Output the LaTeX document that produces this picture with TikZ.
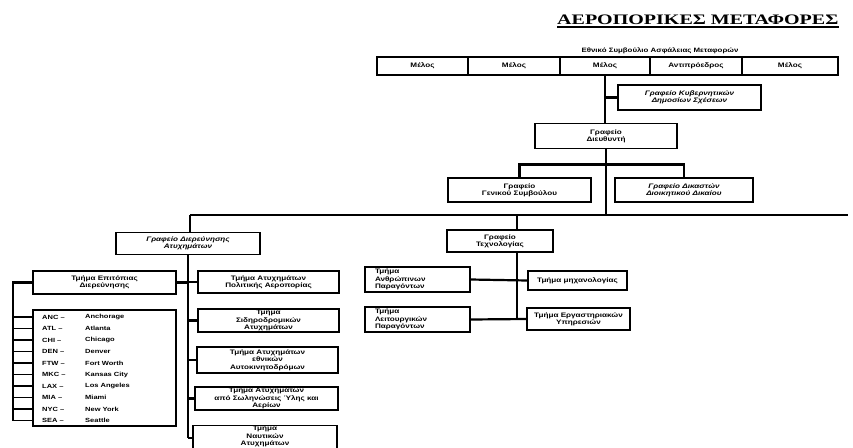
\documentclass[tikz,border=0pt]{standalone}
\usepackage{fontspec}
\setmainfont{Liberation Sans}
\newfontfamily\bxfont[FakeStretch=1.25]{Liberation Sans}
\newfontfamily\ttlfont[FakeStretch=1.38]{Liberation Serif}
\begin{document}
\begin{tikzpicture}[x=1pt,y=-1pt,
  box/.style={draw,line width=1.1pt,inner sep=0pt,align=center,
    font=\bxfont\bfseries\fontsize{6.5}{7.4}\selectfont},
  itbox/.style={box,font=\bxfont\bfseries\itshape\fontsize{6.5}{7.4}\selectfont},
  conn/.style={line width=2.2pt},
  thin/.style={line width=1.4pt},
  lbl/.style={inner sep=0pt,font=\bxfont\bfseries\fontsize{6}{7}\selectfont,anchor=west}
]
\useasboundingbox (0,0) rectangle (853,447);
\clip (0,0) rectangle (853,447);
% title
\node[inner sep=0pt,anchor=base west,font=\ttlfont\bfseries\fontsize{14.5}{16}\selectfont] (title) at (557,24) {ΑΕΡΟΠΟΡΙΚΕΣ ΜΕΤΑΦΟΡΕΣ};
\draw[line width=1.1pt] (title.base west)++(0,3) -- ([yshift=-3pt]title.base east);
\node[inner sep=0pt,font=\bxfont\bfseries\fontsize{6.3}{7}\selectfont] (board) at (660,51) {Εθνικό Συμβούλιο Ασφάλειας Μεταφορών};
% board row
\node[box,minimum width=91pt,minimum height=18pt] (c1) at (422.5,66) {Μέλος};
\node[box,minimum width=92pt,minimum height=18pt] (c2) at (514,66) {Μέλος};
\node[box,minimum width=90pt,minimum height=18pt] (c3) at (605,66) {Μέλος};
\node[box,minimum width=92pt,minimum height=18pt] (c4) at (696,66) {Αντιπρόεδρος};
\node[box,minimum width=96pt,minimum height=18pt] (c5) at (790,66) {Μέλος};
% top offices
\node[itbox,minimum width=143pt,minimum height=25pt] (kyv) at (689.5,97.5) {Γραφείο Κυβερνητικών\\Δημοσίων Σχέσεων};
\node[box,minimum width=142pt,minimum height=25pt] (dir) at (606,136) {Γραφείο\\Διευθυντή};
\node[box,minimum width=143pt,minimum height=24pt] (gen) at (519.5,190) {Γραφείο\\Γενικού Συμβούλου};
\node[itbox,minimum width=138pt,minimum height=24pt] (dik) at (684,190) {Γραφείο Δικαστών\\Διοικητικού Δικαίου};
% main branches
\node[itbox,minimum width=144pt,minimum height=22pt] (acc) at (188,243.5) {Γραφείο Διερεύνησης\\Ατυχημάτων};
\node[box,minimum width=106pt,minimum height=22pt] (tech) at (500,241) {Γραφείο\\Τεχνολογίας};
% technology departments
\node[box,minimum width=105pt,minimum height=25pt,text width=85pt,align=left] (hum) at (417.5,279.5) {Τμήμα\\Ανθρώπινων\\Παραγόντων};
\node[box,minimum width=99pt,minimum height=19pt] (mech) at (577.5,280.5) {Τμήμα μηχανολογίας};
\node[box,minimum width=105pt,minimum height=25pt,text width=85pt,align=left] (op) at (417.5,319.5) {Τμήμα\\Λειτουργικών\\Παραγόντων};
\node[box,minimum width=103pt,minimum height=22pt] (lab) at (578.5,319) {Τμήμα Εργαστηριακών\\Υπηρεσιών};
% accident departments
\node[box,minimum width=143pt,minimum height=23pt] (field) at (104.5,282.5) {Τμήμα Επιτόπιας\\Διερεύνησης};
\node[box,minimum width=143pt,minimum height=116pt] (cities) at (104.5,368) {};
\node[box,minimum width=141pt,minimum height=22pt] (avi) at (268.5,282) {Τμήμα Ατυχημάτων\\Πολιτικής Αεροπορίας};
\node[box,minimum width=141pt,minimum height=23pt] (rail) at (268.5,320.5) {Τμήμα\\Σιδηροδρομικών\\Ατυχημάτων};
\node[box,minimum width=141pt,minimum height=26pt] (hwy) at (267.5,360) {Τμήμα Ατυχημάτων\\εθνικών\\Αυτοκινητοδρόμων};
\node[box,minimum width=143pt,minimum height=23pt] (pipe) at (266.5,398.5) {Τμήμα Ατυχημάτων\\από Σωληνώσεις Ύλης και\\Αερίων};
\node[box,minimum width=144pt,minimum height=34pt,anchor=north] (mar) at (265,425) {Τμήμα\\Ναυτικών\\Ατυχημάτων\\[6pt]};
% city list
\foreach \i/\code/\name in {0/ANC –/Anchorage,1/ATL –/Atlanta,2/CHI –/Chicago,3/DEN –/Denver,4/FTW –/Fort Worth,5/MKC –/Kansas City,6/LAX –/Los Angeles,7/MIA –/Miami,8/NYC –/New York,9/SEA –/Seattle}{
  \node[lbl] (code\i) at (42,317+11.5*\i) {\code};
  \node[lbl] (name\i) at (85,317+11.5*\i) {\name};
  \coordinate (tick\i) at (13,317+11.5*\i);
  \draw[thin] (tick\i) -- (tick\i -| cities.west);
}
% connectors
\draw[conn] (c3.south) -- (c3.south |- dir.north);
\draw[conn] (c3.south |- kyv.west) -- (kyv.west);
\coordinate (mainL) at (190,215);
\coordinate (mainR) at (848,215);
\draw[conn] (dir.south) -- (dir.south |- mainL);
\draw[conn] (gen.north) -- ++(0,-13) -| (dik.north);
\draw[conn] (mainL) -- (mainR);
\draw[conn] (mainL) -- (mainL |- acc.north);
\coordinate (tdrop) at (517,215);
\draw[conn] (tdrop) -- (tdrop |- tech.north);
\coordinate (tbot) at (517,319);
\draw[conn] (tdrop |- tech.south) -- (tbot);
\draw[conn] (hum.east) -- (mech.west);
\draw[conn] (op.east) -- (lab.west);
\coordinate (sbot) at (188,438);
\draw[conn] (sbot |- acc.south) -- (sbot);
\draw[conn] (field.east) -- (sbot |- field.east);
\draw[conn] (sbot |- avi.west) -- (avi.west);
\draw[conn] (sbot |- rail.west) -- (rail.west);
\draw[conn] (sbot |- hwy.west) -- (hwy.west);
\draw[conn] (sbot |- pipe.west) -- (pipe.west);
\draw[conn] (sbot) -- (sbot -| mar.west);
\coordinate (ltop) at (13,282.5);
\draw[conn] (field.west) -- (ltop) -- (tick9);
\end{tikzpicture}
\end{document}
